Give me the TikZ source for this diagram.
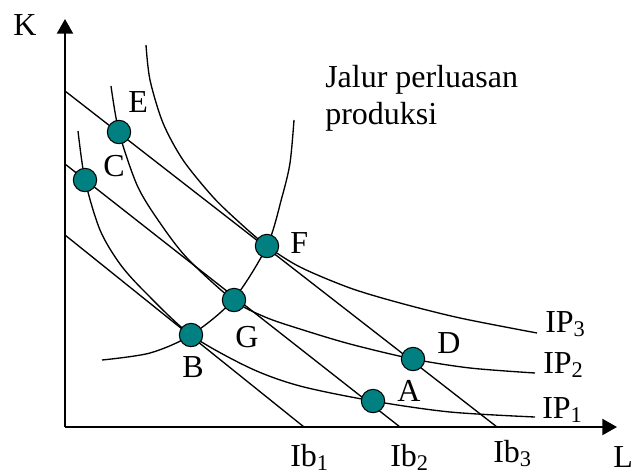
\documentclass[tikz,border=0pt]{standalone}
\usepackage{fontspec}
\setmainfont{Liberation Serif}
\usepackage{xcolor}
\usepackage{tikz}
\usetikzlibrary{arrows.meta}
\definecolor{tealdot}{RGB}{0,128,128}

\begin{document}
\begin{tikzpicture}[x=0.75pt, y=-0.75pt,
    lbl/.style={anchor=base west, inner sep=0pt, font=\fontsize{24}{28}\selectfont},
    pt/.style={circle, draw=black, line width=0.8pt, fill=tealdot, minimum size=17.5pt, inner sep=0pt},
    curve/.style={line width=1pt},
    axis/.style={line width=1.6pt, -{Triangle[length=11pt, width=12pt]}}]
  \useasboundingbox (0,0) rectangle (631,475);
  \coordinate (O) at (65,427);
  \coordinate (Ktop) at (65,19);
  \coordinate (Lend) at (617,427);
  \coordinate (ib1k) at (65,235);
  \coordinate (ib1l) at (304,427);
  \coordinate (ib2k) at (65,164);
  \coordinate (ib2l) at (400,427);
  \coordinate (ib3k) at (65,91);
  \coordinate (ib3l) at (497,427);
  \draw[axis] (O) -- (Ktop);
  \draw[axis] (O) -- (Lend);
  \draw[curve] (ib1k) -- (ib1l);
  \draw[curve] (ib2k) -- (ib2l);
  \draw[curve] (ib3k) -- (ib3l);
  \draw[curve] plot[smooth] coordinates {(78,131) (85,180) (100,230) (120,264)
    (145,292) (191,335) (250,368) (300,386) (373,401) (450,412) (535,417)};
  \draw[curve] plot[smooth] coordinates {(111,86) (119,132) (137,185) (158,220)
    (187,258) (233,300) (265,317) (300,329) (350,344) (413,359) (470,368) (535,373)};
  \draw[curve] plot[smooth] coordinates {(146,45) (150,80) (163,123) (183,160)
    (213,197) (240,223) (267,246) (300,267) (350,288) (400,303) (460,318) (537,333)};
  \draw[curve] plot[smooth] coordinates {(102,360) (150,353) (191,335) (233,300)
    (267,246) (282,197) (290,163) (294,120)};
  \node[pt] (dotE) at (119,132) {};
  \node[pt] (dotC) at (85,180) {};
  \node[pt] (dotF) at (267,246) {};
  \node[pt] (dotG) at (234,300) {};
  \node[pt] (dotB) at (191,335) {};
  \node[pt] (dotD) at (413,359) {};
  \node[pt] (dotA) at (373,401) {};
  \node[lbl] (labK) at (13,35) {K};
  \node[lbl] (labL) at (613,467) {L};
  \node[lbl] (labE) at (128,112) {E};
  \node[lbl] (labC) at (103,176) {C};
  \node[lbl] (labF) at (290,253) {F};
  \node[lbl] (labG) at (235,347) {G};
  \node[lbl] (labB) at (182,377) {B};
  \node[lbl] (labD) at (437,353) {D};
  \node[lbl] (labA) at (397,401) {A};
  \node[lbl] (labIP3) at (545,332) {IP\textsubscript{3}};
  \node[lbl] (labIP2) at (543,373) {IP\textsubscript{2}};
  \node[lbl] (labIP1) at (542,418) {IP\textsubscript{1}};
  \node[lbl] (labIb1) at (290,466) {Ib\textsubscript{1}};
  \node[lbl] (labIb2) at (390,466) {Ib\textsubscript{2}};
  \node[lbl] (labIb3) at (493,462) {Ib\textsubscript{3}};
  \node[lbl] (labJalur) at (325,87) {Jalur perluasan};
  \node[lbl] (labProd) at (325,124) {produksi};
\end{tikzpicture}
\end{document}
